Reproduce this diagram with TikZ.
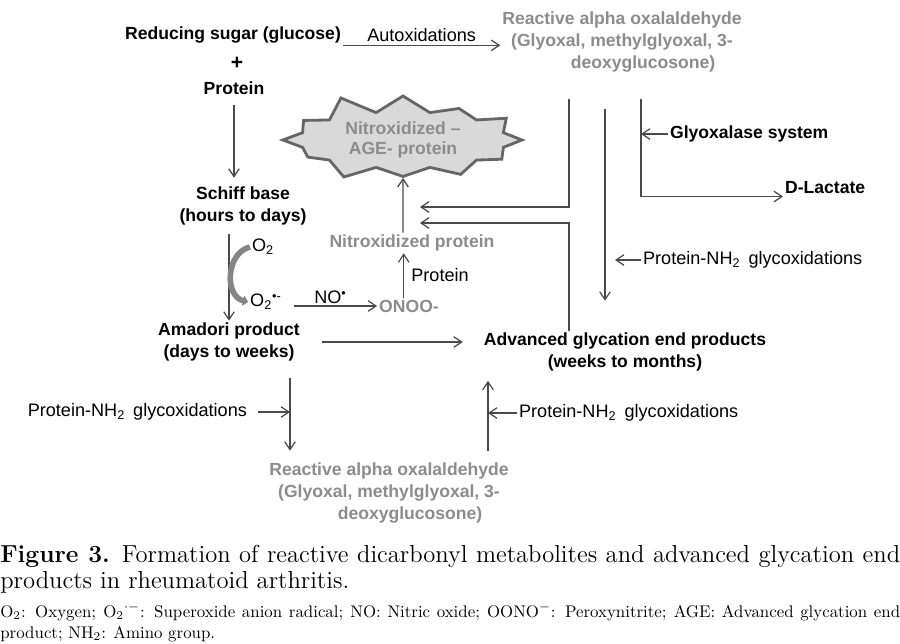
\documentclass[tikz,border=0pt]{standalone}
\usepackage{fontspec}
\newfontfamily\diagfont{Liberation Sans}
\usetikzlibrary{arrows.meta,shapes.symbols,calc}

\definecolor{linegray}{HTML}{4A4A4A}
\definecolor{oxgray}{HTML}{8C8C8C}
\definecolor{burstfill}{HTML}{D9D9D9}
\definecolor{burstline}{HTML}{666666}
\definecolor{arcgray}{HTML}{858585}

\tikzset{
  txt/.style={inner sep=1pt,align=center,text=black,
    font=\diagfont\fontsize{10}{12.5}\selectfont\bfseries},
  plain/.style={txt,font=\diagfont\fontsize{10.3}{12.5}\selectfont},
  greytxt/.style={txt,text=oxgray},
  conn/.style={->,draw=linegray,line width=0.7pt},
  burst/.style={starburst,starburst points=12,starburst point height=0.42cm,
    random starburst=11,fill=burstfill,draw=burstline,line width=1.6pt,
    inner sep=-2pt,minimum width=5cm,minimum height=1.7cm,greytxt,
    font=\diagfont\fontsize{10}{11.5}\selectfont\bfseries}
}

\begin{document}
\begin{tikzpicture}[x=0.02cm,y=-0.02cm,
        >={Straight Barb[length=4.5pt,width=6pt]}]
        \useasboundingbox (0,0) rectangle (900,643);
        \fill[white] (0,0) rectangle (900,643);

        % top row
        \node[txt]      at (233,35)     (sugar)   {Reducing sugar (glucose)};
        \node[txt,font=\diagfont\fontsize{12}{12.5}\selectfont\bfseries]
                        at (237,63)     (plus)    {+};
        \node[txt]      at (234,88)     (protein) {Protein};
        \node[greytxt]  at (622,42)     (oxaltop) {Reactive alpha oxalaldehyde\\(Glyoxal, methylglyoxal, 3-\\\hspace*{2.4em}deoxyglucosone)};

        % left column
        \node[txt]      at (243,206)    (schiff)  {Schiff base\\(hours to days)};
        \node[txt]      at (229,342)    (amadori) {Amadori product\\(days to weeks)};
        \node[plain]    at (263,247)    (o2)      {O\textsubscript{2}};
        \node[plain]    at (266,302)    (o2r)     {O\textsubscript{2}\textsuperscript{\textbullet-}};

        % nitroxidation branch
        \node[greytxt]  at (409,306)    (onoo)    {ONOO-};
        \node[greytxt]  at (412,243)    (nitprot) {Nitroxidized protein};
        \node[burst]    at (403,140)    (star)    {Nitroxidized –\\AGE- protein};

        % right side
        \node[txt]      at (625,352)    (age)     {Advanced glycation end products\\(weeks to months)};
        \node[txt,anchor=west]   at (668,134)   (glyox)   {Glyoxalase system};
        \node[txt,anchor=west]   at (783,188)   (dlact)   {D-Lactate};
        \node[plain,anchor=west] at (641,260)   (nh2a)    {Protein-NH\textsubscript{2}\, glycoxidations};

        % bottom
        \node[plain,anchor=east] at (249,412)   (nh2b)    {Protein-NH\textsubscript{2}\, glycoxidations};
        \node[plain,anchor=west] at (517,413)   (nh2c)    {Protein-NH\textsubscript{2}\, glycoxidations};
        \node[greytxt]  at (389,493)    (oxalbot) {Reactive alpha oxalaldehyde\\(Glyoxal, methylglyoxal, 3-\\\hspace*{2.4em}deoxyglucosone)};

        % junction columns
        \coordinate (c1)  at (569,0);
        \coordinate (c2)  at (605,0);
        \coordinate (c3)  at (641,0);
        \coordinate (c4)  at (290,0);
        \coordinate (c5)  at (488,0);
        \coordinate (in1) at (420,207);
        \coordinate (in2) at (420,223);

        \draw[conn] (sugar.south east) -- (sugar.south east -| oxaltop.west)
                node[plain,midway,above=1pt] {Autoxidations};
        \draw[conn,shorten <=5pt,shorten >=4pt] (protein) -- (protein |- schiff.north);
        \draw[conn,shorten <=4pt] (schiff.south -| amadori) -- (amadori.north);
        \draw[draw=arcgray,line width=3.2pt,-{Triangle[length=3pt,width=6pt]}]
                (o2.west) .. controls +(-24,6) and +(-24,-6) .. (o2r.west);
        \draw[conn,shorten <=6pt] (o2r.east |- onoo) -- (onoo.west)
                node[plain,midway,above=0pt] {NO\textsuperscript{\textbullet}};
        \draw[conn] ([xshift=-3pt]onoo.north) -- ([xshift=-3pt]onoo.north |- nitprot.south)
                node[plain,midway,right=3pt] {Protein};
        \draw[conn] (nitprot.north -| star) -- (star.south);

        \draw[conn,shorten <=0.5cm] (oxaltop.south -| c1) |- (in1);
        \draw[conn] (age.north -| c1) |- (in2);
        \draw[conn,shorten <=0.7cm,shorten >=0.6cm] (oxaltop.south -| c2) -- (age.north -| c2);
        \draw[conn,shorten <=0.5cm] (oxaltop.south -| c3) |- ([yshift=-0.17cm]dlact.west);
        \draw[conn] (glyox.west) -- (glyox.west -| c3);
        \draw[conn,shorten >=0.2cm] (nh2a.west) -- (nh2a.west -| c2);
        \draw[conn,shorten <=0.4cm,shorten >=0.38cm] (amadori.east) -- (amadori.east -| age.west);
        \draw[conn,shorten <=0.3cm,shorten >=0.2cm] (amadori.south -| c4) -- (oxalbot.north -| c4);
        \draw[conn,shorten <=5pt] (nh2b.east) -- (nh2b.east -| c4);
        \draw[conn,shorten <=0.2cm,shorten >=0.15cm] (oxalbot.north -| c5) -- (age.south -| c5);
        \draw[conn] (nh2c.west) -- (nh2c.west -| c5);

        % caption
        \node[anchor=north west,inner sep=0pt,text width=18cm,align=justify,
              font=\fontsize{14}{14.8}\selectfont] at (0,545) (cap)
              {\textbf{Figure 3.} Formation of reactive dicarbonyl metabolites and advanced glycation end\linebreak
               products in rheumatoid arthritis.};
        \node[anchor=north west,inner sep=0pt,text width=18cm,align=justify,
              font=\fontsize{9.6}{11.9}\selectfont] at (0,603) (notes)
              {O\textsubscript{2}: Oxygen; O\textsubscript{2}$^{\cdot-}$: Superoxide anion radical; NO: Nitric oxide; OONO$^{-}$: Peroxynitrite; AGE: Advanced glycation end\linebreak
               product; NH\textsubscript{2}: Amino group.};
    \end{tikzpicture}
\end{document}
